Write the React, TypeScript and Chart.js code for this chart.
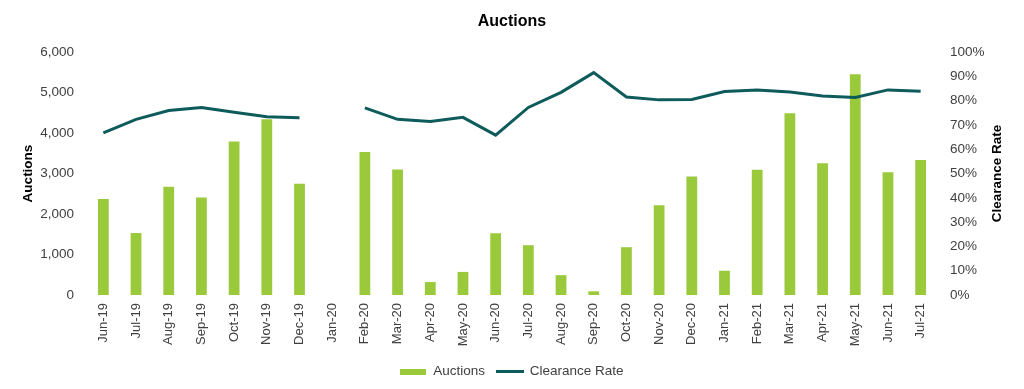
import React, { useEffect, useRef } from "react";
import { Chart, registerables } from "chart.js";

Chart.register(...registerables);

const months: string[] = [
  "Jun-19", "Jul-19", "Aug-19", "Sep-19", "Oct-19", "Nov-19", "Dec-19",
  "Jan-20", "Feb-20", "Mar-20", "Apr-20", "May-20", "Jun-20", "Jul-20",
  "Aug-20", "Sep-20", "Oct-20", "Nov-20", "Dec-20", "Jan-21", "Feb-21",
  "Mar-21", "Apr-21", "May-21", "Jun-21", "Jul-21",
];

const auctions: number[] = [
  2370, 1530, 2670, 2410, 3790, 4340, 2750,
  0, 3530, 3100, 320, 570, 1525, 1230,
  490, 90, 1180, 2215, 2925, 600, 3090,
  4490, 3255, 5450, 3030, 3335,
];

const clearanceRate: (number | null)[] = [
  66.7, 72.3, 75.9, 77.2, 75.2, 73.4, 72.9,
  null, 77.0, 72.3, 71.4, 73.1, 65.8, 77.2,
  83.4, 91.5, 81.5, 80.3, 80.5, 83.7, 84.4,
  83.5, 81.9, 81.3, 84.4, 83.8,
];

const leftTicks: number[] = [0, 1000, 2000, 3000, 4000, 5000, 6000];
const rightTicks: number[] = [0, 10, 20, 30, 40, 50, 60, 70, 80, 90, 100];

const FONT = "'Liberation Sans', Arial, sans-serif";
const TEXT = "#404040";
const GREEN = "#9ACA3C";
const TEAL = "#0D5B5A";

function swatch(w: number, h: number, color: string): HTMLCanvasElement {
  const c = document.createElement("canvas");
  c.width = w;
  c.height = h;
  const g = c.getContext("2d")!;
  g.fillStyle = color;
  g.fillRect(0, 0, w, h);
  return c;
}

export default function App() {
  const ref = useRef<HTMLCanvasElement | null>(null);

  useEffect(() => {
    if (!ref.current) return;

    const barSwatch = swatch(26, 6, GREEN);
    const lineSwatch = swatch(28, 3, TEAL);

    const rightTitle = {
      id: "rightTitle",
      afterDraw(chart: any) {
        const { ctx, chartArea } = chart;
        ctx.save();
        ctx.translate(997, (chartArea.top + chartArea.bottom) / 2);
        ctx.rotate(-Math.PI / 2);
        ctx.font = `bold 13.5px ${FONT}`;
        ctx.fillStyle = "#000";
        ctx.textAlign = "center";
        ctx.textBaseline = "middle";
        ctx.fillText("Clearance Rate", 0, 0);
        ctx.restore();
      },
    };

    const chart = new Chart(ref.current, {
      type: "bar",
      data: {
        labels: months,
        datasets: [
          {
            type: "line",
            label: "Clearance Rate",
            data: clearanceRate,
            yAxisID: "y1",
            borderColor: TEAL,
            backgroundColor: TEAL,
            borderWidth: 3,
            pointRadius: 0,
            pointStyle: lineSwatch,
            tension: 0,
            spanGaps: false,
            order: 0,
          } as any,
          {
            type: "bar",
            label: "Auctions",
            data: auctions,
            yAxisID: "y",
            backgroundColor: GREEN,
            borderWidth: 0,
            pointStyle: barSwatch,
            categoryPercentage: 1,
            barPercentage: 0.33,
            order: 1,
          } as any,
        ],
      },
      options: {
        animation: false,
        responsive: true,
        maintainAspectRatio: false,
        layout: { padding: { left: 0, right: 0, top: 0, bottom: 0.5 } },
        plugins: {
          title: {
            display: true,
            text: "Auctions",
            color: "#000",
            font: { family: FONT, size: 16, weight: "bold" },
            padding: { top: 12, bottom: 20.8 },
          },
          legend: {
            position: "bottom",
            reverse: true,
            labels: {
              color: TEXT,
              font: { family: FONT, size: 13.5 },
              usePointStyle: true,
              pointStyleWidth: 26,
              boxHeight: 6,
              padding: 12,
            },
          },
          tooltip: { enabled: false },
        },
        scales: {
          x: {
            grid: { display: false, drawTicks: false },
            border: { display: false },
            ticks: {
              color: TEXT,
              font: { family: FONT, size: 13 },
              minRotation: 90,
              maxRotation: 90,
              autoSkip: false,
              padding: 8,
            },
            afterFit: (s: any) => {
              s.height = 58;
            },
          },
          y: {
            position: "left",
            min: 0,
            max: 6000,
            afterBuildTicks: (s: any) => {
              s.ticks = leftTicks.map((v) => ({ value: v }));
            },
            grid: { display: false, drawTicks: false },
            border: { display: false },
            ticks: {
              color: TEXT,
              font: { family: FONT, size: 13.5 },
              padding: 13,
              callback: (v: any) => Number(v).toLocaleString("en-US"),
            },
            title: {
              display: true,
              text: "Auctions",
              color: "#000",
              font: { family: FONT, size: 13.5, weight: "bold" },
              padding: { top: 20, bottom: 0 },
            },
            afterFit: (s: any) => {
              s.width = 87;
            },
          },
          y1: {
            position: "right",
            min: 0,
            max: 100,
            afterBuildTicks: (s: any) => {
              s.ticks = rightTicks.map((v) => ({ value: v }));
            },
            grid: { display: false, drawTicks: false },
            border: { display: false },
            ticks: {
              color: TEXT,
              font: { family: FONT, size: 13.5 },
              padding: 13,
              callback: (v: any) => `${v}%`,
            },
            afterFit: (s: any) => {
              s.width = 87;
            },
          },
        },
      } as any,
      plugins: [rightTitle],
    });

    return () => chart.destroy();
  }, []);

  return (
    <div style={{ position: "absolute", left: 0, top: 0, width: 1024, height: 389, background: "#fff" }}>
      <canvas ref={ref} />
    </div>
  );
}
